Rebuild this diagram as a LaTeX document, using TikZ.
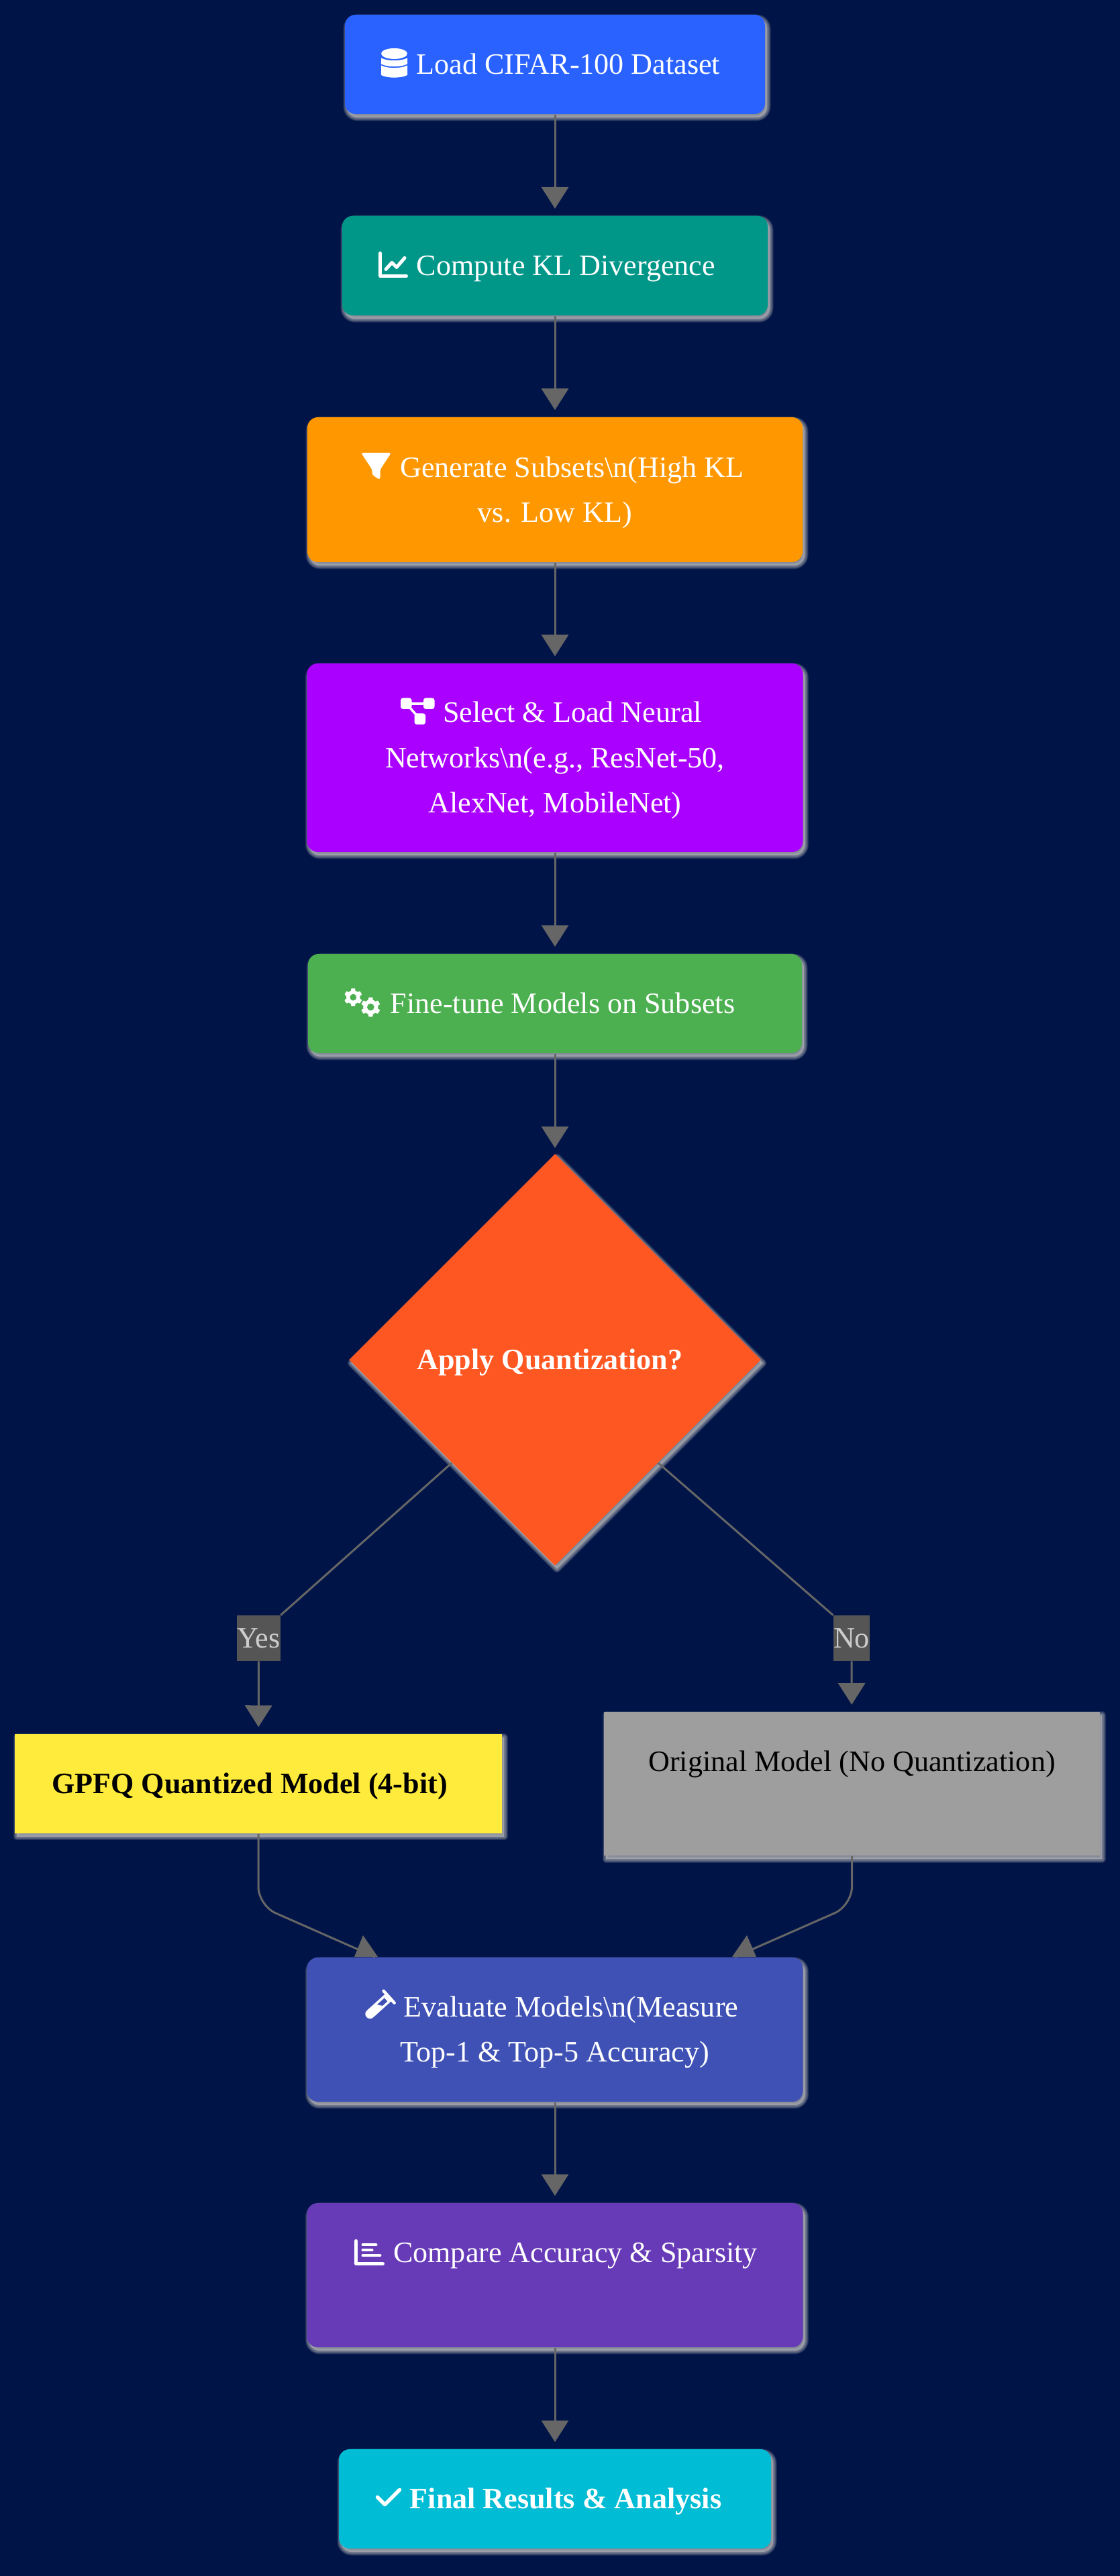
\documentclass[tikz,border=0pt]{standalone}
\usepackage{fontspec}
\setmainfont{Liberation Serif}
\usetikzlibrary{arrows.meta,shapes.geometric}

\definecolor{navybg}{HTML}{001447}
\definecolor{flowgrey}{HTML}{666666}
\definecolor{tagfill}{HTML}{555555}
\definecolor{tagtext}{HTML}{CCCCCC}
\definecolor{glowgrey}{HTML}{BEBEBE}
\definecolor{loadcol}{HTML}{2962FF}
\definecolor{klcol}{HTML}{009688}
\definecolor{subsetcol}{HTML}{FF9800}
\definecolor{netcol}{HTML}{AA00FF}
\definecolor{tunecol}{HTML}{4CAF50}
\definecolor{decidecol}{HTML}{FF5722}
\definecolor{quantcol}{HTML}{FFEB3B}
\definecolor{origcol}{HTML}{9E9E9E}
\definecolor{evalcol}{HTML}{3F51B5}
\definecolor{cmpcol}{HTML}{673AB7}
\definecolor{finalcol}{HTML}{00BCD4}

\newcommand{\padby}[1]{\hspace*{#1cm}}
\newcommand{\ls}{\rule[-5.37pt]{0pt}{19.15pt}}

\tikzset{
  glowstep/.style={preaction={draw=glowgrey,fill=glowgrey,line join=round,draw opacity=.17,fill opacity=.17,
    line width=#1,transform canvas={xshift=.03cm,yshift=-.05cm}}},
  glow/.style={glowstep=.11cm,glowstep=.09cm,glowstep=.07cm,glowstep=.05cm,glowstep=.03cm},
  flowbox/.style={rectangle,rounded corners=.16cm,glow,text=white,align=center,inner sep=0pt,
    font=\fontsize{12.55}{19.15}\selectfont},
  flatbox/.style={flowbox,rounded corners=0pt,text=black},
  yesno/.style={rectangle,fill=tagfill,text=tagtext,inner sep=0pt,
    font=\fontsize{12.55}{19.15}\selectfont},
  flowline/.style={draw=flowgrey,line width=.03cm},
  flowarrow/.style={flowline,-{Triangle[length=.32cm,width=.40cm]},shorten >=.10cm},
  dbicon/.pic={
    \fill (0,.14) ellipse (.195 and .08);
    \fill (-.195,.075) .. controls (-.1,.025) and (.1,.025) .. (.195,.075) -- (.195,-.015)
      .. controls (.1,-.065) and (-.1,-.065) .. (-.195,-.015) -- cycle;
    \fill (-.195,-.035) .. controls (-.1,-.085) and (.1,-.085) .. (.195,-.035) -- (.195,-.18)
      .. controls (.1,-.23) and (-.1,-.23) .. (-.195,-.18) -- cycle;
  },
  charticon/.pic={
    \draw[line width=.05cm,line cap=round,line join=round] (-.195,.17) -- (-.195,-.17) -- (.195,-.17);
    \draw[line width=.05cm,line cap=round,line join=round] (-.11,-.07) -- (-.02,.03) -- (.05,-.04) -- (.17,.10);
  },
  funnelicon/.pic={
    \fill[rounded corners=.03cm] (-.225,.195) -- (.225,.195) -- (.06,-.055) -- (.06,-.195) -- (.03,-.195)
      -- (-.06,-.13) -- (-.06,-.055) -- cycle;
  },
  neticon/.pic={
    \fill[rounded corners=.035cm] (-.25,.035) rectangle (-.085,.2);
    \fill[rounded corners=.035cm] (.09,.035) rectangle (.255,.2);
    \fill[rounded corners=.035cm] (-.045,-.195) rectangle (.12,-.03);
    \draw[line width=.035cm] (-.165,.115) -- (.17,.115);
    \draw[line width=.035cm] (-.165,.115) -- (.035,-.11);
  },
  cogicon/.pic={
    \foreach \cx/\cy/\cr in {-.142/.068/.133,.118/-.078/.143}{
      \begin{scope}[shift={(\cx,\cy)}]
        \fill[even odd rule] (0,0) circle ({.78*\cr}) (0,0) circle ({.38*\cr});
        \foreach \a in {30,90,...,330}
          \fill[rotate=\a,rounded corners=.01cm] ({.62*\cr},{-.24*\cr}) rectangle ({\cr},{.24*\cr});
      \end{scope}
    }
  },
  vialicon/.pic={
    \begin{scope}[rotate=-48]
      \fill[even odd rule] (-.07,.17) -- (-.07,-.19) arc (180:360:.07) -- (.07,.17) -- cycle
        (-.035,.13) -- (-.035,-.02) -- (.035,.03) -- (.035,.13) -- cycle;
      \draw[line width=.045cm,line cap=round] (-.12,.19) -- (.12,.19);
    \end{scope}
  },
  barsicon/.pic={
    \draw[line width=.05cm,line cap=round,line join=round] (-.2,.17) -- (-.2,-.17) -- (.2,-.17);
    \draw[line width=.04cm,line cap=round] (-.1,.11) -- (.1,.11);
    \draw[line width=.04cm,line cap=round] (-.1,.03) -- (.04,.03);
    \draw[line width=.04cm,line cap=round] (-.1,-.05) -- (.16,-.05);
  },
  tickicon/.pic={
    \draw[line width=.055cm,line cap=round,line join=round] (-.165,0) -- (-.055,-.11) -- (.165,.11);
  }
}

\begin{document}
\begin{tikzpicture}
\fill[navybg] (0,0) rectangle (16.69,38.40);

\node[flowbox,fill=loadcol,minimum width=6.26cm,minimum height=1.48cm] (load) at (8.27,37.44) {\ls\padby{.40}Load CIFAR-100 Dataset};
\node[flowbox,fill=klcol,minimum width=6.34cm,minimum height=1.485cm] (klcalc) at (8.27,34.44) {\ls\padby{.33}Compute KL Divergence};
\node[flowbox,fill=subsetcol,minimum width=7.38cm,minimum height=2.16cm] (subset) at (8.27,31.10) {\ls\padby{.51}Generate Subsets\textbackslash n(High KL\\\ls vs. Low KL)};
\node[flowbox,fill=netcol,minimum width=7.39cm,minimum height=2.81cm] (selnet) at (8.27,27.105) {\ls\padby{.52}Select \& Load Neural\\\ls Networks\textbackslash n(e.g., ResNet-50,\padby{.20}\\\ls AlexNet, MobileNet)};
\node[flowbox,fill=tunecol,minimum width=7.36cm,minimum height=1.48cm] (tune) at (8.27,23.44) {\ls\padby{.23}Fine-tune Models on Subsets};
\node[flowbox,rounded corners=0pt,diamond,fill=decidecol,minimum width=6.14cm,minimum height=6.14cm] (decide) at (8.27,18.13) {\ls\bfseries Apply Quantization?\padby{.15}};
\node[yesno,minimum width=.63cm] (yes) at (3.855,13.98) {\ls Yes};
\node[yesno,minimum width=.51cm] (no) at (12.69,13.98) {\ls No};
\node[flatbox,fill=quantcol,minimum width=7.26cm,minimum height=1.48cm] (quant) at (3.85,11.81) {\ls\bfseries GPFQ Quantized Model (4-bit)\padby{.26}};
\node[flatbox,fill=origcol,minimum width=7.39cm,minimum height=2.145cm] (orig) at (12.695,11.81) {\ls Original Model (No Quantization)\\\ls};
\node[flowbox,fill=evalcol,minimum width=7.39cm,minimum height=2.15cm] (evl) at (8.27,8.145) {\ls\padby{.48}Evaluate Models\textbackslash n(Measure\\\ls Top-1 \& Top-5 Accuracy)};
\node[flowbox,fill=cmpcol,minimum width=7.39cm,minimum height=2.15cm] (cmp) at (8.27,4.485) {\ls\padby{.61}Compare Accuracy \& Sparsity\\\ls};
\node[flowbox,fill=finalcol,minimum width=6.44cm,minimum height=1.48cm] (final) at (8.27,1.15) {\ls\padby{.32}\bfseries Final Results \& Analysis};

\pic[white] at (5.875,37.46) {dbicon};
\pic[white] at (5.86,34.455) {charticon};
\pic[white] at (5.605,31.455) {funnelicon};
\pic[white] at (6.22,27.795) {neticon};
\pic[white] at (5.405,23.465) {cogicon};
\pic[white] at (5.655,8.505) {vialicon};
\pic[white] at (5.505,4.825) {barsicon};
\pic[white] at (5.79,1.175) {tickicon};

\draw[flowarrow] (load) -- (klcalc);
\draw[flowarrow] (klcalc) -- (subset);
\draw[flowarrow] (subset) -- (selnet);
\draw[flowarrow] (selnet) -- (tune);
\draw[flowarrow,shorten >=.08cm] (tune) -- (decide.north);

\draw[flowline] (decide.south west) -- (yes.north east);
\draw[flowline] (decide.south east) -- (no.north west);
\draw[flowarrow] (yes) -- (quant);
\draw[flowarrow] (no) -- (orig);

\coordinate (yesbend) at (3.85,9.995);
\coordinate (nobend) at (12.695,9.995);
\draw[flowline,rounded corners=.28cm] (quant.south) -- (yesbend) -- (evl.158);
\draw[flowline,rounded corners=.28cm] (orig.south) -- (nobend) -- (evl.22);
\fill[flowgrey] (5.41,9.55) -- (5.28,9.23) -- (5.63,9.23) -- cycle;
\fill[flowgrey] (11.13,9.55) -- (10.91,9.23) -- (11.27,9.23) -- cycle;

\draw[flowarrow] (evl) -- (cmp);
\draw[flowarrow] (cmp) -- (final);
\end{tikzpicture}
\end{document}
